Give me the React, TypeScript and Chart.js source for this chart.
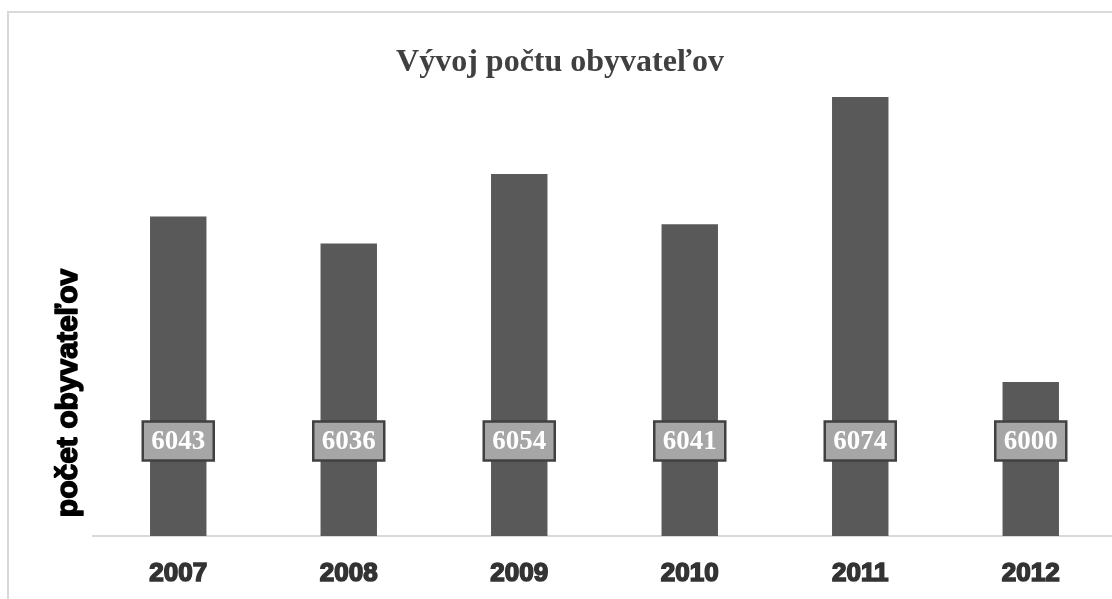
import React, { useEffect, useRef } from "react";
import { Chart, registerables } from "chart.js";

Chart.register(...registerables);

const chartTitle = "Vývoj počtu obyvateľov";
const yAxisTitle = "počet obyvateľov";
const years = ["2007", "2008", "2009", "2010", "2011", "2012"];
const population = [6043, 6036, 6054, 6041, 6074, 6000];
const yMin = 5960;
const yMax = 6080;

const CANVAS_W = 1120;
const CANVAS_H = 590;

const decorPlugin = {
  id: "decor",
  afterDatasetsDraw(chart: any) {
    const ctx = chart.ctx;
    const area = chart.chartArea;
    const meta = chart.getDatasetMeta(0);
    ctx.save();
    // data label boxes
    meta.data.forEach((bar: any, i: number) => {
      const cx = bar.x;
      const cy = area.bottom - 95;
      const w = 71;
      const h = 39;
      ctx.fillStyle = "#a6a6a6";
      ctx.fillRect(cx - w / 2, cy - h / 2, w, h);
      ctx.lineWidth = 2.5;
      ctx.strokeStyle = "#404040";
      ctx.strokeRect(cx - w / 2, cy - h / 2, w, h);
      ctx.fillStyle = "#ffffff";
      ctx.font = "bold 27px 'Liberation Serif'";
      ctx.textAlign = "center";
      ctx.textBaseline = "middle";
      ctx.fillText(String(population[i]), cx, cy + 1);
    });
    ctx.restore();
  },
  afterDraw(chart: any) {
    const ctx = chart.ctx;
    ctx.save();
    // chart title
    ctx.fillStyle = "#404040";
    ctx.font = "bold 32px 'Liberation Serif'";
    ctx.textAlign = "center";
    ctx.textBaseline = "alphabetic";
    ctx.fillText(chartTitle, 551, 58);
    // y axis title
    ctx.translate(60, 380);
    ctx.rotate(-Math.PI / 2);
    ctx.fillStyle = "#000000";
    ctx.strokeStyle = "#000000";
    ctx.lineWidth = 1.5;
    ctx.lineJoin = "round";
    ctx.font = "bold 30px 'Liberation Sans'";
    ctx.textAlign = "center";
    ctx.textBaseline = "middle";
    ctx.fillText(yAxisTitle, 0, 0);
    ctx.strokeText(yAxisTitle, 0, 0);
    ctx.restore();
  },
};

export default function App() {
  const ref = useRef<HTMLCanvasElement | null>(null);

  useEffect(() => {
    const prevOverflow = document.body.style.overflow;
    document.body.style.overflow = "hidden";
    const canvas = ref.current!;
    const chart = new Chart(canvas, {
      type: "bar",
      data: {
        labels: years,
        datasets: [
          {
            data: population,
            backgroundColor: "#595959",
            borderWidth: 0,
            barPercentage: 0.331,
            categoryPercentage: 1,
          },
        ],
      },
      options: {
        responsive: false,
        animation: false,
        devicePixelRatio: 1,
        layout: { padding: { top: 61, left: 84, right: 13, bottom: 0 } },
        plugins: {
          legend: { display: false },
          title: { display: false },
          tooltip: { enabled: false },
        },
        scales: {
          x: {
            afterFit: (scale: any) => {
              scale.height = 67;
            },
            grid: { display: false, drawTicks: false },
            border: { display: true, color: "#d9d9d9", width: 2 },
            ticks: {
              padding: 22,
              color: "#333333",
              font: { family: "'Liberation Sans'", size: 26, weight: "bold" },
              textStrokeColor: "#333333",
              textStrokeWidth: 1.6,
            },
          },
          y: {
            display: false,
            min: yMin,
            max: yMax,
          },
        },
      },
      plugins: [decorPlugin],
    } as any);
    return () => {
      chart.destroy();
      document.body.style.overflow = prevOverflow;
    };
  }, []);

  return (
    <div
      style={{
        position: "fixed",
        left: 0,
        top: 0,
        width: 1112,
        height: 599,
        overflow: "hidden",
        background: "#ffffff",
      }}
    >
      <div
        style={{
          position: "absolute",
          left: 7,
          top: 11,
          width: 1140,
          height: 640,
          borderLeft: "2px solid #d9d9d9",
          borderTop: "2px solid #d9d9d9",
        }}
      >
        <canvas
          ref={ref}
          width={CANVAS_W}
          height={CANVAS_H}
          style={{ position: "absolute", left: 0, top: 0, width: CANVAS_W, height: CANVAS_H }}
        />
      </div>
    </div>
  );
}
